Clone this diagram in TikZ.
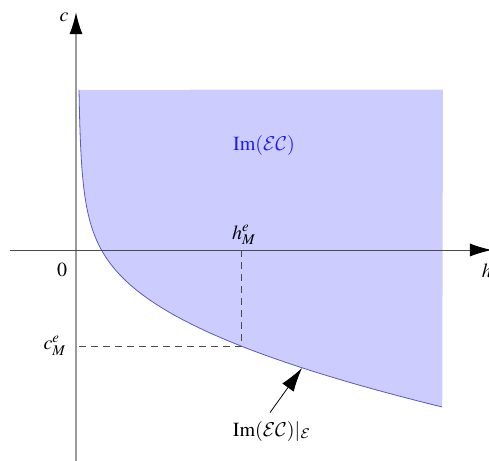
\documentclass[tikz,border=0pt]{standalone}
\usepackage{mathptmx}
\DeclareMathAlphabet{\mathcal}{OMS}{cmsy}{m}{n}
\usepackage{xcolor}
\usepackage{tikz}
\usetikzlibrary{arrows.meta,calc,positioning}
\definecolor{RegionFill}{HTML}{CCCCFF}
\definecolor{RegionEdge}{HTML}{5A5AC0}
\definecolor{RegionText}{HTML}{1E1EF0}
\definecolor{AxisGray}{HTML}{9A9A9A}
\definecolor{AxisInk}{HTML}{4A4A4A}
\tikzset{
  >={Latex[length=11pt,width=6.5pt,color=black]},
  yaxis/.style={->,line width=0.8pt,draw=AxisGray},
  xaxis/.style={->,line width=0.5pt,draw=AxisInk},
  guide/.style={line width=0.5pt,draw=AxisInk,dash pattern=on 3.5pt off 2.5pt},
  pointer/.style={-{Latex[length=12pt,width=7pt]},line width=0.4pt},
  lbl/.style={inner sep=1pt,font=\normalsize}
}

\begin{document}
\begin{tikzpicture}[x=0.5pt,y=-0.5pt]
  \useasboundingbox (0,0) rectangle (489,461);
  % image of the map, bounded below by the curve
  \fill[RegionFill] plot[domain=1.235:19.1,samples=400,smooth]
      ({77.5+\x*\x},{250-8.8*(24/\x-\x)}) -- (443,89.5) -- cycle;
  \draw[RegionEdge,line width=0.4pt] plot[domain=1.235:19.1,samples=400,smooth]
      ({77.5+\x*\x},{250-8.8*(24/\x-\x)});
  % axes
  \coordinate (ybot) at (76,461);
  \coordinate (ytop) at (76,12);
  \coordinate (xleft) at (10,250);
  \coordinate (xright) at (492,250);
  \draw[yaxis] (ybot) -- (ytop);
  \draw[xaxis] (xleft) -- (xright);
  % the marked point
  \coordinate (M) at (242,346);
  \coordinate (Mh) at (242,250);
  \coordinate (Mc) at (76,346);
  \draw[guide] (Mh) -- (M) -- (Mc);
  % labels
  \node[lbl] (clabel) at (64,17) {$c$};
  \node[lbl] (hlabel) at (487,271) {$h$};
  \node[lbl] (zero) at (62,270) {$0$};
  \node[lbl] (hM) at (244,235) {$h_M^e$};
  \node[lbl] (cM) at (55,346) {$c_M^e$};
  \node[lbl,text=RegionText] (img) at (264,145) {$\mathrm{Im}(\mathcal{E}\mathcal{C})$};
  \node[lbl] (bdry) at (272,431) {$\mathrm{Im}(\mathcal{E}\mathcal{C})|_{\mathcal{E}}$};
  \coordinate (onedge) at (302,368);
  \draw[pointer] (bdry.north) ++(-2,-6) -- (onedge);
\end{tikzpicture}
\end{document}
